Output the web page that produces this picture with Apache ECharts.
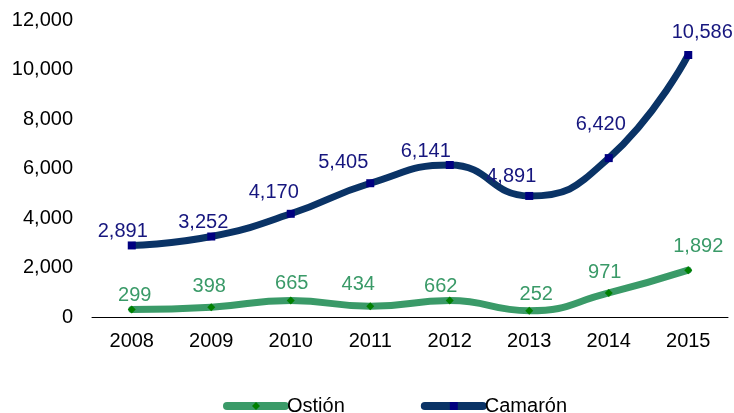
<!DOCTYPE html>
<html><head><meta charset="utf-8">
<script src="https://cdn.jsdelivr.net/npm/echarts@6/dist/echarts.min.js"></script>
<style>html,body{margin:0;padding:0;background:#fff}#c{width:734px;height:413px}</style>
</head><body><div id="c"></div>
<script>
const categories = ['2008','2009','2010','2011','2012','2013','2014','2015'];
const ostion = [299, 398, 665, 434, 662, 252, 971, 1892];
const camaron = [2891, 3252, 4170, 5405, 6141, 4891, 6420, 10586];
const yTicks = [0, 2000, 4000, 6000, 8000, 10000, 12000];

// label nudges (styling only): [dx, dy] from each point
const ostionLabelNudge = [[3,-14],[-2,-21],[1,-17],[-12,-22],[-9,-14],[7,-16],[-4,-20],[10,-24]];
const camaronLabelNudge = [[-9,-14],[-8,-14],[-17,-21],[-27,-21],[-24,-14],[-18,-19],[-8,-34],[14,-23]];

const font = '"Liberation Sans", Arial, sans-serif';
const fmt = v => Number(v).toLocaleString('en-US');
const withLabels = (vals, nudges) => vals.map((v, i) => ({value: v, label: {offset: nudges[i]}}));

const chart = echarts.init(document.getElementById('c'));
chart.setOption({
  animation: false,
  textStyle: {fontFamily: font},
  grid: {left: 92, right: 6, top: 20, bottom: 96, containLabel: false},
  legend: {
    top: 391, left: 218, itemGap: 76, itemWidth: 58, itemHeight: 10,
    lineStyle: {width: 8, cap: 'round'},
    textStyle: {fontSize: 20, color: '#000', fontFamily: font, padding: [0,0,0,-3]},
    data: ['Ostión', 'Camarón']
  },
  xAxis: {
    type: 'category', data: categories, boundaryGap: true,
    axisLine: {lineStyle: {color: '#000', width: 1}},
    axisTick: {show: false},
    axisLabel: {color: '#000', fontSize: 20, margin: 14, fontFamily: font}
  },
  yAxis: {
    type: 'value', min: yTicks[0], max: yTicks[yTicks.length-1], interval: 2000,
    axisLine: {show: false}, axisTick: {show: false}, splitLine: {show: false},
    axisLabel: {color: '#000', fontSize: 20, margin: 19, fontFamily: font, formatter: v => fmt(v)}
  },
  series: [
    {
      name: 'Ostión', type: 'line', data: withLabels(ostion, ostionLabelNudge), smooth: 0.5,
      lineStyle: {color: '#3a9a68', width: 7, cap: 'round'},
      itemStyle: {color: '#008000'},
      symbol: 'diamond', symbolSize: 8,
      label: {show: true, position: 'inside', color: '#3a9a68', fontSize: 20, fontFamily: font, formatter: p => fmt(p.value)}
    },
    {
      name: 'Camarón', type: 'line', data: withLabels(camaron, camaronLabelNudge), smooth: 0.5,
      lineStyle: {color: '#0a3366', width: 7, cap: 'round'},
      itemStyle: {color: '#000080'},
      symbol: 'rect', symbolSize: 8,
      label: {show: true, position: 'inside', color: '#16167e', fontSize: 20, fontFamily: font, formatter: p => fmt(p.value)}
    }
  ]
});
</script></body></html>
